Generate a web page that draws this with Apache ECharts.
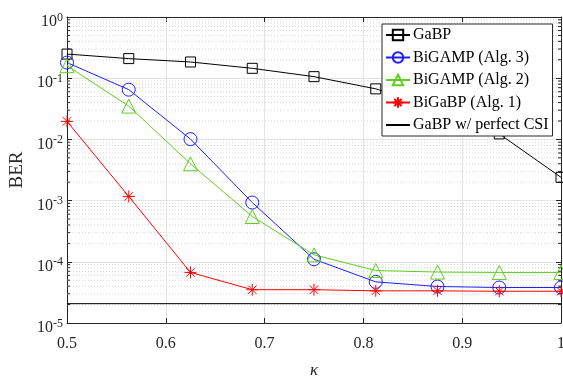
<!DOCTYPE html>
<html>
<head>
<meta charset="utf-8">
<script src="https://cdn.jsdelivr.net/npm/echarts@6/dist/echarts.min.js"></script>
<style>html,body{margin:0;padding:0;background:#fff}#c{width:563px;height:376px}</style>
</head>
<body>
<div id="c"></div>
<script>
const kappa = [0.5, 0.5625, 0.625, 0.6875, 0.75, 0.8125, 0.875, 0.9375, 1.0];
const gabp = [0.248, 0.209, 0.184, 0.145, 0.106, 0.067, 0.0326, 0.0123, 0.0024];
const bigamp3 = [0.18, 0.065, 0.0101, 9.3e-4, 1.1e-4, 4.7e-5, 3.95e-5, 3.8e-5, 3.8e-5];
const bigamp2 = [0.16, 0.035, 0.004, 5.5e-4, 1.3e-4, 7.2e-5, 6.8e-5, 6.7e-5, 6.7e-5];
const bigabp1 = [0.0197, 1.17e-3, 6.7e-5, 3.5e-5, 3.5e-5, 3.35e-5, 3.35e-5, 3.3e-5, 3.3e-5];
const perfectX = [0.5, 1.0];
const perfectY = [2.07e-5, 2.07e-5];
const names = ['GaBP', 'BiGAMP (Alg. 3)', 'BiGAMP (Alg. 2)', 'BiGaBP (Alg. 1)', 'GaBP w/ perfect CSI'];

const AX = '#262626';
const FONT = 'Liberation Serif';
const minorVals = [];
for (let k = -5; k < 0; k++) for (let m = 2; m <= 9; m++) minorVals.push([0.5, m * Math.pow(10, k)]);

const zip = (xs, ys) => xs.map((x, i) => [x, ys[i]]);
const chart = echarts.init(document.getElementById('c'), null, {renderer: 'canvas'});
const star = 'path://M10,0L10,20M0,10L20,10M3,3L17,17M3,17L17,3';

function lineSeries(name, data, color, symbol, size) {
  return {
    name, type: 'line', data, clip: false,
    symbol, symbolSize: size, showSymbol: symbol !== 'none',
    lineStyle: {color, width: 1},
    itemStyle: {color: 'rgba(255,255,255,0)', borderColor: color, borderWidth: 1},
    emphasis: {disabled: true}, z: 2
  };
}

chart.setOption({
  animation: false,
  backgroundColor: '#fff',
  grid: {left: 67, top: 17, width: 494, height: 306, show: false, outerBoundsMode: 'none', containLabel: false},
  legend: {
    left: 382, top: 24, orient: 'vertical', z: 20,
    itemWidth: 24, itemHeight: 13, itemGap: 6.5,
    padding: [3, 4, 3, 3],
    borderColor: AX, borderWidth: 1, backgroundColor: '#fff',
    textStyle: {fontFamily: FONT, fontSize: 16, lineHeight: 13, color: '#000', padding: [0, 0, 0, -2]},
    data: [
      {name: names[0]}, {name: names[1]}, {name: names[2]}, {name: names[3]},
      {name: names[4], itemStyle: {opacity: 0}}
    ]
  },
  xAxis: [{
    type: 'value', min: 0.5, max: 1, interval: 0.1, position: 'bottom',
    name: 'κ', nameLocation: 'middle', nameGap: 39,
    nameTextStyle: {fontFamily: FONT, fontSize: 17, fontStyle: 'italic', color: AX},
    axisLine: {show: true, lineStyle: {color: AX, width: 1}},
    axisTick: {show: true, inside: true, length: 5, lineStyle: {color: AX}},
    axisLabel: {fontFamily: FONT, fontSize: 16, color: AX, margin: 13,
      formatter: v => (Math.abs(v - 1) < 1e-9 ? '1' : v.toFixed(1))},
    splitLine: {show: true, lineStyle: {color: '#e3e3e3', width: 1}}
  }, {
    type: 'value', min: 0.5, max: 1, interval: 0.1, position: 'top',
    axisLine: {show: true, lineStyle: {color: AX, width: 1}},
    axisTick: {show: true, inside: true, length: 5, lineStyle: {color: AX}},
    axisLabel: {show: false}, splitLine: {show: false}
  }],
  yAxis: [{
    type: 'log', logBase: 10, min: 1e-5, max: 1, position: 'left',
    name: 'BER', nameLocation: 'middle', nameGap: 38, nameRotate: 90,
    nameTextStyle: {fontFamily: FONT, fontSize: 19, color: AX},
    axisLine: {show: true, lineStyle: {color: AX, width: 1}},
    axisTick: {show: true, inside: true, length: 5, lineStyle: {color: AX}},
    axisLabel: {
      margin: 4,
      padding: [10, 0, 0, 0],
      formatter: v => '{b|10}{s|' + Math.round(Math.log10(v)) + '}',
      rich: {
        b: {fontFamily: FONT, fontSize: 16, color: AX},
        s: {fontFamily: FONT, fontSize: 12, color: AX, verticalAlign: 'bottom', padding: [0, 0, 9, 0]}
      }
    },
    splitLine: {show: true, lineStyle: {color: '#e3e3e3', width: 1}}
  }, {
    type: 'log', logBase: 10, min: 1e-5, max: 1, position: 'right',
    axisLine: {show: true, lineStyle: {color: AX, width: 1}},
    axisTick: {show: true, inside: true, length: 5, lineStyle: {color: AX}},
    axisLabel: {show: false}, splitLine: {show: false}
  }],
  series: [
    {
      type: 'custom', silent: true, z: 1, data: minorVals,
      renderItem: (params, api) => {
        const y = api.value(1);
        const p0 = api.coord([0.5, y]);
        const p1 = api.coord([1, y]);
        return {type: 'group', children: [
          {type: 'line', shape: {x1: p0[0], y1: p0[1], x2: p1[0], y2: p1[1]},
           style: {stroke: '#d6d6d6', lineWidth: 1, lineDash: [1, 2]}},
          {type: 'line', shape: {x1: p0[0], y1: p0[1], x2: p0[0] + 3, y2: p0[1]},
           style: {stroke: AX, lineWidth: 1}},
          {type: 'line', shape: {x1: p1[0] - 3, y1: p1[1], x2: p1[0], y2: p1[1]},
           style: {stroke: AX, lineWidth: 1}}
        ]};
      }
    },
    lineSeries(names[0], zip(kappa, gabp), '#000000', 'rect', 10),
    lineSeries(names[1], zip(kappa, bigamp3), '#1f1fff', 'circle', 13),
    lineSeries(names[2], zip(kappa, bigamp2), '#5fce1e', 'triangle', 14),
    lineSeries(names[3], zip(kappa, bigabp1), '#ff0000', star, 12),
    lineSeries(names[4], zip(perfectX, perfectY), '#000000', 'none', 0)
  ]
});
</script>
</body>
</html>
